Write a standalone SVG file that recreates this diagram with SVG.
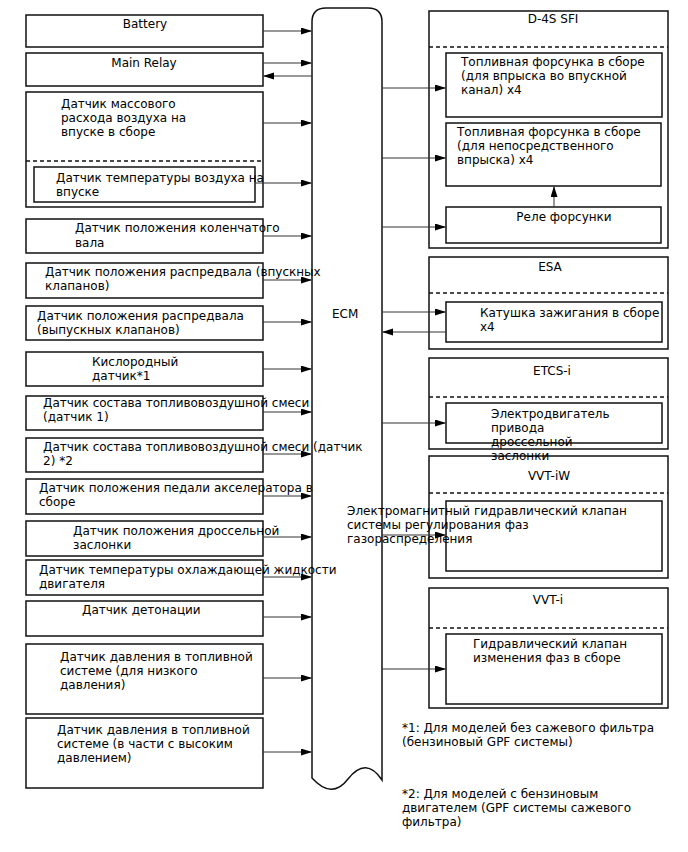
<svg xmlns="http://www.w3.org/2000/svg" width="688" height="852" viewBox="0 0 688 852">
<defs>
<marker id="ah" markerUnits="userSpaceOnUse" markerWidth="11" markerHeight="8" refX="10" refY="3.5" orient="auto">
<path d="M0,0 L11,3.5 L0,7 z" fill="#000"/>
</marker>
<style>
.b{fill:#fff;stroke:#111;stroke-width:1.5}
.d{fill:none;stroke:#111;stroke-width:1.3;stroke-dasharray:4,3}
.c{fill:none;stroke:#333;stroke-width:1;marker-end:url(#ah)}
text{font-family:"DejaVu Sans","Noto Sans",sans-serif;font-size:12px;fill:#000}
.m{text-anchor:middle}
</style>
</defs>
<rect width="688" height="852" fill="#fff"/>

<g id="ecm">
<path class="b" d="M312,778 L312,22 Q312,8 326,8 L368,8 Q382,8 382,22 L382,780 Q366,756 348,779 Q332,800 312,778 Z"/>
<text x="332" y="318">ECM</text>
</g>

<g id="battery"><rect class="b" x="26" y="15" width="237" height="32"/><text class="m" x="145" y="28">Battery</text></g>
<g id="main-relay"><rect class="b" x="26" y="53" width="237" height="33"/><text class="m" x="144" y="67">Main Relay</text></g>
<g id="maf"><rect class="b" x="26" y="92" width="237" height="115"/><line class="d" x1="26" y1="161" x2="263" y2="161"/>
<text x="61" y="108">Датчик массового</text><text x="61" y="122">расхода воздуха на</text><text x="61" y="136">впуске в сборе</text></g>
<g id="iat"><rect class="b" x="34" y="167" width="221" height="35"/><text x="56" y="182">Датчик температуры воздуха на</text><text x="56" y="196">впуске</text></g>
<g id="ckp"><rect class="b" x="26" y="219" width="237" height="34"/><text x="75" y="232">Датчик положения коленчатого</text><text x="75" y="247">вала</text></g>
<g id="cmp-in"><rect class="b" x="26" y="263" width="237" height="35"/><text x="45" y="276">Датчик положения распредвала (впускных</text><text x="45" y="290">клапанов)</text></g>
<g id="cmp-ex"><rect class="b" x="26" y="306" width="237" height="34"/><text x="37" y="320">Датчик положения распредвала</text><text x="37" y="334">(выпускных клапанов)</text></g>
<g id="o2"><rect class="b" x="26" y="352" width="237" height="34"/><text x="92" y="366">Кислородный</text><text x="92" y="380">датчик*1</text></g>
<g id="af1"><rect class="b" x="26" y="396" width="237" height="34"/><text x="43" y="407">Датчик состава топливовоздушной смеси</text><text x="43" y="421">(датчик 1)</text></g>
<g id="af2"><rect class="b" x="26" y="438" width="237" height="34"/><text x="43" y="451">Датчик состава топливовоздушной смеси (датчик</text><text x="43" y="465">2) *2</text></g>
<g id="app"><rect class="b" x="26" y="479" width="237" height="35"/><text x="39" y="492">Датчик положения педали акселератора в</text><text x="39" y="506">сборе</text></g>
<g id="tps"><rect class="b" x="26" y="521" width="237" height="35"/><text x="73" y="535">Датчик положения дроссельной</text><text x="73" y="549">заслонки</text></g>
<g id="ect"><rect class="b" x="26" y="560" width="237" height="35"/><text x="39" y="574">Датчик температуры охлаждающей жидкости</text><text x="39" y="588">двигателя</text></g>
<g id="knock"><rect class="b" x="26" y="601" width="237" height="35"/><text x="82" y="614">Датчик детонации</text></g>
<g id="fp-low"><rect class="b" x="26" y="644" width="237" height="70"/><text x="60" y="661">Датчик давления в топливной</text><text x="60" y="675">системе (для низкого</text><text x="60" y="689">давления)</text></g>
<g id="fp-high"><rect class="b" x="26" y="718" width="237" height="70"/><text x="57" y="734">Датчик давления в топливной</text><text x="57" y="748">системе (в части с высоким</text><text x="57" y="762">давлением)</text></g>

<g id="d4s"><rect class="b" x="429" y="11" width="239" height="237"/><line class="d" x1="429" y1="47" x2="668" y2="47"/><text class="m" x="553" y="23">D-4S SFI</text></g>
<g id="inj-port"><rect class="b" x="446" y="53" width="216" height="64"/><text x="461" y="66">Топливная форсунка в сборе</text><text x="461" y="80">(для впрыска во впускной</text><text x="461" y="94">канал) x4</text></g>
<g id="inj-direct"><rect class="b" x="446" y="123" width="215" height="63"/><text x="457" y="136">Топливная форсунка в сборе</text><text x="457" y="150">(для непосредственного</text><text x="457" y="164">впрыска) x4</text></g>
<g id="inj-relay"><rect class="b" x="446" y="207" width="215" height="36"/><text class="m" x="564" y="221">Реле форсунки</text></g>

<g id="esa"><rect class="b" x="429" y="257" width="239" height="92"/><line class="d" x1="429" y1="293" x2="668" y2="293"/><text class="m" x="550" y="271">ESA</text></g>
<g id="coil"><rect class="b" x="446" y="302" width="216" height="40"/><text x="480" y="317">Катушка зажигания в сборе</text><text x="480" y="331">x4</text></g>

<g id="etcs"><rect class="b" x="429" y="358" width="239" height="91"/><line class="d" x1="429" y1="397" x2="668" y2="397"/><text class="m" x="552" y="375">ETCS-i</text></g>
<g id="vvtiw"><rect class="b" x="429" y="456" width="239" height="122"/><line class="d" x1="429" y1="493" x2="668" y2="493"/><text class="m" x="549" y="480">VVT-iW</text></g>
<g id="throttle-motor"><rect class="b" x="446" y="403" width="216" height="40"/><text x="491" y="418">Электродвигатель</text><text x="491" y="432">привода</text><text x="491" y="446">дроссельной</text><text x="491" y="460">заслонки</text></g>
<g id="ocv-w"><rect class="b" x="446" y="501" width="216" height="70"/></g>

<g id="vvti"><rect class="b" x="429" y="588" width="239" height="120"/><line class="d" x1="429" y1="628" x2="668" y2="628"/><text class="m" x="548" y="604">VVT-i</text></g>
<g id="ocv"><rect class="b" x="446" y="634" width="216" height="70"/><text x="473" y="648">Гидравлический клапан</text><text x="473" y="662">изменения фаз в сборе</text></g>

<g id="connectors">
<line class="c" x1="263" y1="31" x2="311" y2="31"/>
<line class="c" x1="263" y1="63" x2="311" y2="63"/>
<line class="c" x1="312" y1="76" x2="264" y2="76"/>
<line class="c" x1="263" y1="123" x2="311" y2="123"/>
<line class="c" x1="255" y1="183" x2="311" y2="183"/>
<line class="c" x1="263" y1="236" x2="311" y2="236"/>
<line class="c" x1="263" y1="280" x2="311" y2="280"/>
<line class="c" x1="263" y1="322" x2="311" y2="322"/>
<line class="c" x1="263" y1="369" x2="311" y2="369"/>
<line class="c" x1="263" y1="412" x2="311" y2="412"/>
<line class="c" x1="263" y1="454" x2="311" y2="454"/>
<line class="c" x1="263" y1="496" x2="311" y2="496"/>
<line class="c" x1="263" y1="537" x2="311" y2="537"/>
<line class="c" x1="263" y1="577" x2="311" y2="577"/>
<line class="c" x1="263" y1="617" x2="311" y2="617"/>
<line class="c" x1="263" y1="678" x2="311" y2="678"/>
<line class="c" x1="263" y1="752" x2="311" y2="752"/>
<line class="c" x1="382" y1="88" x2="445" y2="88"/>
<line class="c" x1="382" y1="158" x2="445" y2="158"/>
<line class="c" x1="382" y1="227" x2="445" y2="227"/>
<line class="c" x1="554" y1="207" x2="554" y2="187"/>
<line class="c" x1="382" y1="312" x2="445" y2="312"/>
<line class="c" x1="446" y1="332" x2="383" y2="332"/>
<line class="c" x1="382" y1="423" x2="445" y2="423"/>
<line class="c" x1="382" y1="535" x2="445" y2="535"/>
<line class="c" x1="382" y1="669" x2="445" y2="669"/>
</g>

<g id="ocv-w-label"><text x="347" y="515">Электромагнитный гидравлический клапан</text><text x="347" y="529">системы регулирования фаз</text><text x="347" y="543">газораспределения</text></g>

<g id="notes">
<text x="402" y="732">*1: Для моделей без сажевого фильтра</text>
<text x="402" y="746">(бензиновый GPF системы)</text>
<text x="402" y="798">*2: Для моделей с бензиновым</text>
<text x="402" y="812">двигателем (GPF системы сажевого</text>
<text x="402" y="826">фильтра)</text>
</g>
</svg>
